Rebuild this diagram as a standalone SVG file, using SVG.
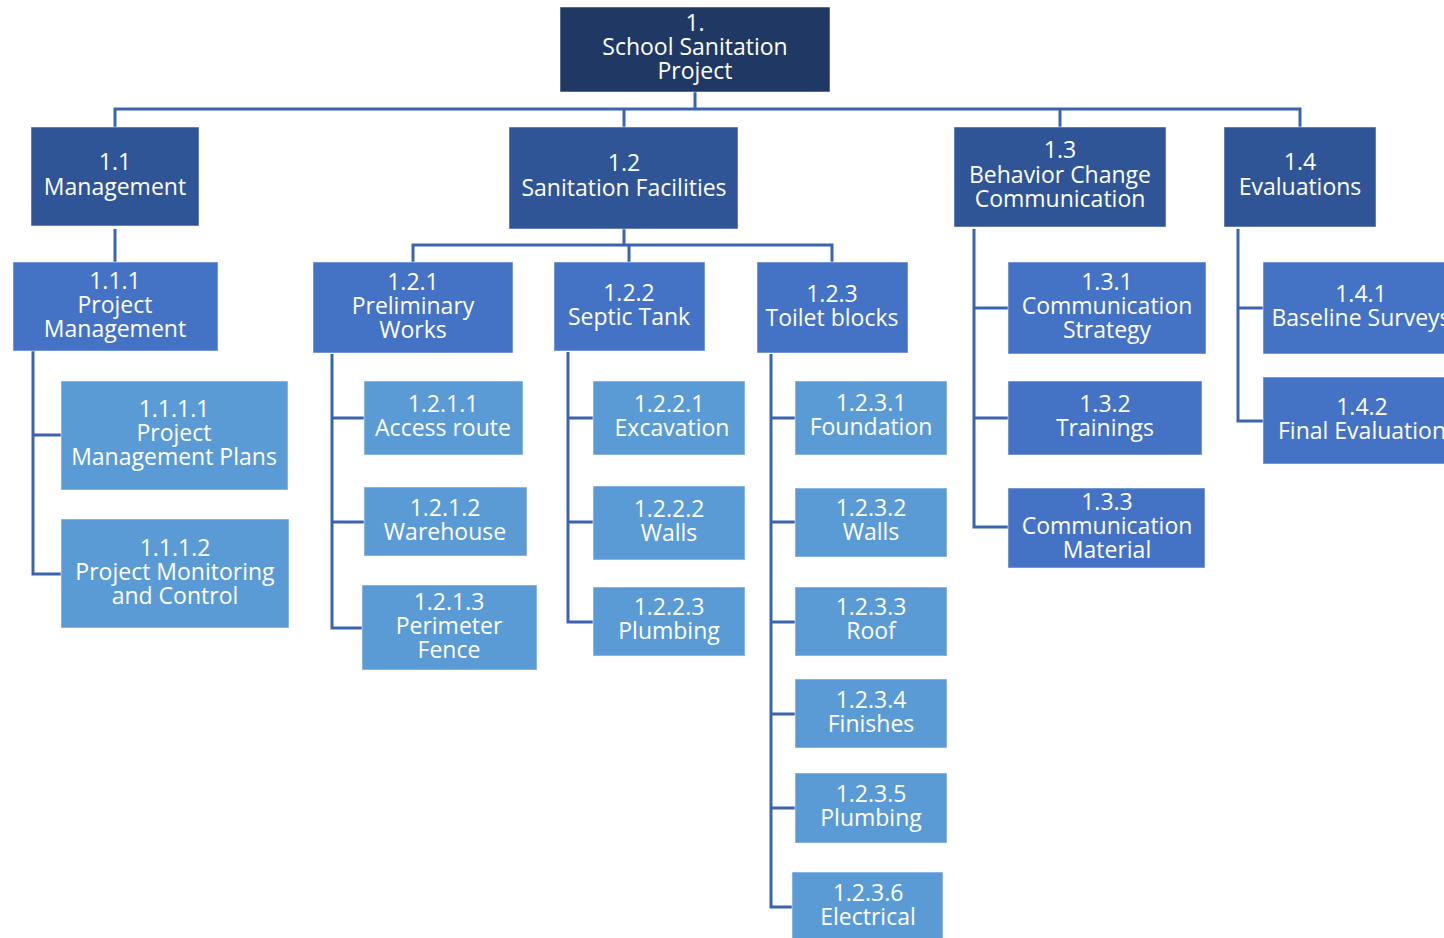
<svg xmlns="http://www.w3.org/2000/svg" width="1444" height="938" viewBox="0 0 1444 938">
<style>
text{font-family:"Open Sans","Noto Sans",sans-serif;font-size:23px;fill:#ffffff;text-anchor:middle}
rect{stroke:#ffffff;stroke-opacity:0.5;stroke-width:1}
.l0{fill:#203864}
.l1{fill:#2F5597}
.l2{fill:#4472C4}
.l3{fill:#5B9BD5}
.c{fill:none;stroke:#3C64AE;stroke-width:3}
</style>
<rect x="0" y="0" width="1444" height="938" fill="#ffffff" stroke="none"/>
<g id="connectors" class="c">
<path d="M695 92V109M115 127V109H1300V127M624 109V127M1060 109V127"/>
<path d="M115 229V262"/>
<path d="M33 351V574H61M33 435H61"/>
<path d="M624 229V245M413 262V245H832V262M629 245V262"/>
<path d="M332 354V628H362M332 418H364M332 522H364"/>
<path d="M568 352V622H593M568 418H593M568 522H593"/>
<path d="M771 354V907H792M771 418H795M771 522H795M771 622H795M771 714H795M771 808H795"/>
<path d="M974 229V527H1008M974 308H1008M974 418H1008"/>
<path d="M1238 229V421H1263M1238 308H1263"/>
</g>
<g id="n1"><rect class="l0" x="560" y="7" width="270" height="85"/><text x="695" y="31">1.</text><text x="695" y="55">School Sanitation</text><text x="695" y="79">Project</text></g>
<g id="n1-1"><rect class="l1" x="31" y="127" width="168" height="99"/><text x="115" y="170">1.1</text><text x="115" y="195">Management</text></g>
<g id="n1-2"><rect class="l1" x="509" y="127" width="229" height="102"/><text x="624" y="171">1.2</text><text x="624" y="196">Sanitation Facilities</text></g>
<g id="n1-3"><rect class="l1" x="954" y="127" width="212" height="100"/><text x="1060" y="158">1.3</text><text x="1060" y="183">Behavior Change</text><text x="1060" y="207">Communication</text></g>
<g id="n1-4"><rect class="l1" x="1224" y="127" width="152" height="100"/><text x="1300" y="170">1.4</text><text x="1300" y="195">Evaluations</text></g>
<g id="n1-1-1"><rect class="l2" x="13" y="262" width="205" height="89"/><text x="115" y="289">1.1.1</text><text x="115" y="313">Project</text><text x="115" y="337">Management</text></g>
<g id="n1-1-1-1"><rect class="l3" x="61" y="381" width="227" height="109"/><text x="174" y="417">1.1.1.1</text><text x="174" y="441">Project</text><text x="174" y="465">Management Plans</text></g>
<g id="n1-1-1-2"><rect class="l3" x="61" y="519" width="228" height="109"/><text x="175" y="556">1.1.1.2</text><text x="175" y="580">Project Monitoring</text><text x="175" y="604">and Control</text></g>
<g id="n1-2-1"><rect class="l2" x="313" y="262" width="200" height="91"/><text x="413" y="290">1.2.1</text><text x="413" y="314">Preliminary</text><text x="413" y="338">Works</text></g>
<g id="n1-2-2"><rect class="l2" x="554" y="262" width="151" height="89"/><text x="629" y="301">1.2.2</text><text x="629" y="325">Septic Tank</text></g>
<g id="n1-2-3"><rect class="l2" x="757" y="262" width="151" height="91"/><text x="832" y="302">1.2.3</text><text x="832" y="326">Toilet blocks</text></g>
<g id="n1-2-1-1"><rect class="l3" x="364" y="381" width="159" height="74"/><text x="443" y="412">1.2.1.1</text><text x="443" y="436">Access route</text></g>
<g id="n1-2-1-2"><rect class="l3" x="364" y="487" width="163" height="69"/><text x="445" y="516">1.2.1.2</text><text x="445" y="540">Warehouse</text></g>
<g id="n1-2-1-3"><rect class="l3" x="362" y="585" width="175" height="85"/><text x="449" y="610">1.2.1.3</text><text x="449" y="634">Perimeter</text><text x="449" y="658">Fence</text></g>
<g id="n1-2-2-1"><rect class="l3" x="593" y="381" width="152" height="74"/><text x="669" y="412">1.2.2.1</text><text x="672" y="436">Excavation</text></g>
<g id="n1-2-2-2"><rect class="l3" x="593" y="486" width="152" height="74"/><text x="669" y="517">1.2.2.2</text><text x="669" y="541">Walls</text></g>
<g id="n1-2-2-3"><rect class="l3" x="593" y="587" width="152" height="69"/><text x="669" y="615">1.2.2.3</text><text x="669" y="639">Plumbing</text></g>
<g id="n1-2-3-1"><rect class="l3" x="795" y="381" width="152" height="74"/><text x="871" y="411">1.2.3.1</text><text x="871" y="435">Foundation</text></g>
<g id="n1-2-3-2"><rect class="l3" x="795" y="488" width="152" height="69"/><text x="871" y="516">1.2.3.2</text><text x="871" y="540">Walls</text></g>
<g id="n1-2-3-3"><rect class="l3" x="795" y="587" width="152" height="69"/><text x="871" y="615">1.2.3.3</text><text x="871" y="639">Roof</text></g>
<g id="n1-2-3-4"><rect class="l3" x="795" y="679" width="152" height="69"/><text x="871" y="708">1.2.3.4</text><text x="871" y="732">Finishes</text></g>
<g id="n1-2-3-5"><rect class="l3" x="795" y="773" width="152" height="70"/><text x="871" y="802">1.2.3.5</text><text x="871" y="826">Plumbing</text></g>
<g id="n1-2-3-6"><rect class="l3" x="792" y="872" width="151" height="70"/><text x="868" y="901">1.2.3.6</text><text x="868" y="925">Electrical</text></g>
<g id="n1-3-1"><rect class="l2" x="1008" y="262" width="198" height="92"/><text x="1107" y="290">1.3.1</text><text x="1107" y="314">Communication</text><text x="1107" y="338">Strategy</text></g>
<g id="n1-3-2"><rect class="l2" x="1008" y="381" width="194" height="74"/><text x="1105" y="412">1.3.2</text><text x="1105" y="436">Trainings</text></g>
<g id="n1-3-3"><rect class="l2" x="1008" y="488" width="197" height="80"/><text x="1107" y="510">1.3.3</text><text x="1107" y="534">Communication</text><text x="1107" y="558">Material</text></g>
<g id="n1-4-1"><rect class="l2" x="1263" y="262" width="200" height="92"/><text x="1361" y="302">1.4.1</text><text x="1361" y="326">Baseline Surveys</text></g>
<g id="n1-4-2"><rect class="l2" x="1263" y="377" width="200" height="87"/><text x="1362" y="415">1.4.2</text><text x="1362" y="439">Final Evaluation</text></g>
</svg>
